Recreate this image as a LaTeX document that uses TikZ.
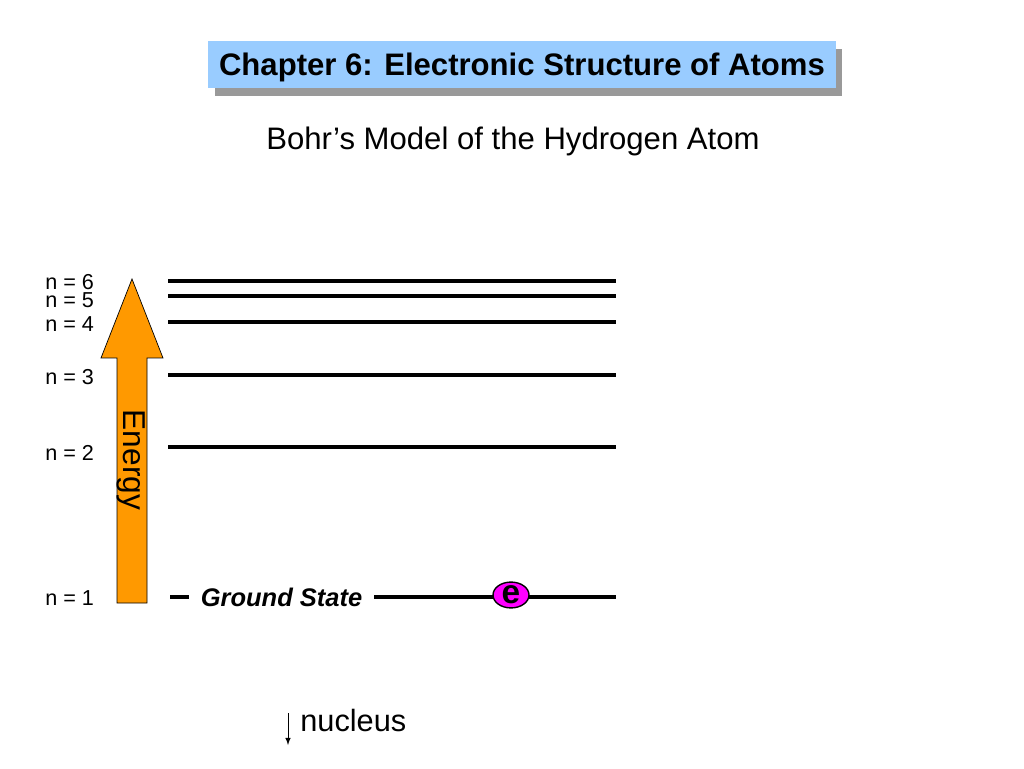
\documentclass[tikz,border=0pt]{standalone}
\usepackage{fontspec}
\setmainfont{Liberation Sans}
\usepackage{tikz}
\usetikzlibrary{shadows}
\usetikzlibrary{positioning}
\usetikzlibrary{arrows,shapes}
\usetikzlibrary{calc}
\definecolor{titleblue}{RGB}{153,204,255}
\definecolor{energyorange}{RGB}{255,153,0}
\definecolor{emagenta}{RGB}{255,0,255}
\begin{document}
\begin{tikzpicture}
  [x=0.02cm,y=0.02cm,
  level/.style={black,line width=2pt},
  nlabel/.style={anchor=west,inner sep=0pt,font=\fontsize{12.3}{13}\selectfont},
  titlebox/.style={fill=titleblue,minimum width=12.56cm,minimum height=0.94cm,inner sep=0pt,text depth=0pt,
    font=\fontsize{17.7}{19}\selectfont\bfseries,
    drop shadow={shadow xshift=0.13cm,shadow yshift=-0.16cm,fill=black!40,opacity=1}},
  electron/.style={ellipse,draw=black,thick,fill=emagenta,minimum width=0.72cm,minimum height=0.44cm,inner sep=0pt,
    font=\fontsize{19}{19}\selectfont\bfseries}]
  \useasboundingbox (0,0) rectangle (1024,768);
  \node[titlebox] (title) at (522,703.5) {Chapter 6: Electronic Structure of Atoms};
  \node[font=\fontsize{17.7}{19}\selectfont] (subtitle) at (513,627) {Bohr’s Model of the Hydrogen Atom};
  
  \fill[energyorange,draw=black,thin] (117,165) -- (147,165) -- (147,410) -- (163,410) -- (132,489) -- (101,410) -- (117,410) -- cycle;
  \node[rotate=-90,font=\fontsize{18}{18}\selectfont] (energy) at (131,308) {Energy};
  
  \node[nlabel] (n6) at (45,486) {n = 6};
  \node[nlabel] (n5) at (45,468) {n = 5};
  \node[nlabel] (n4) at (45,444) {n = 4};
  \node[nlabel] (n3) at (45,391) {n = 3};
  \node[nlabel] (n2) at (45,315) {n = 2};
  \node[nlabel] (n1) at (45,170) {n = 1};
  
  \coordinate (l6) at (168,487); \coordinate (r6) at (616,487);
  \coordinate (l5) at (168,472); \coordinate (r5) at (616,472);
  \coordinate (l4) at (168,446); \coordinate (r4) at (616,446);
  \coordinate (l3) at (168,393); \coordinate (r3) at (616,393);
  \coordinate (l2) at (168,321); \coordinate (r2) at (616,321);
  \coordinate (l1) at (170,171); \coordinate (r1) at (616,171);
  
  \draw [level] (l6) -- (r6);
  \draw [level] (l5) -- (r5);
  \draw [level] (l4) -- (r4);
  \draw [level] (l3) -- (r3);
  \draw [level] (l2) -- (r2);
  \draw [level] (l1) -- node [pos=0.25,fill=white,inner xsep=0.24cm,font=\fontsize{14.5}{15}\selectfont\bfseries\itshape] (ground) {Ground State} (r1);
  
  \node[electron] (e) at (511,173) {e};
  
  \coordinate (ntop) at (288,55);
  \coordinate (nbot) at (288,23);
  \draw [->,>=latex,thin] (ntop) -- (nbot);
  \node[anchor=west,inner sep=0pt,font=\fontsize{17.5}{18}\selectfont] (nucleus) at (300,47) {nucleus};
\end{tikzpicture}
\end{document}
